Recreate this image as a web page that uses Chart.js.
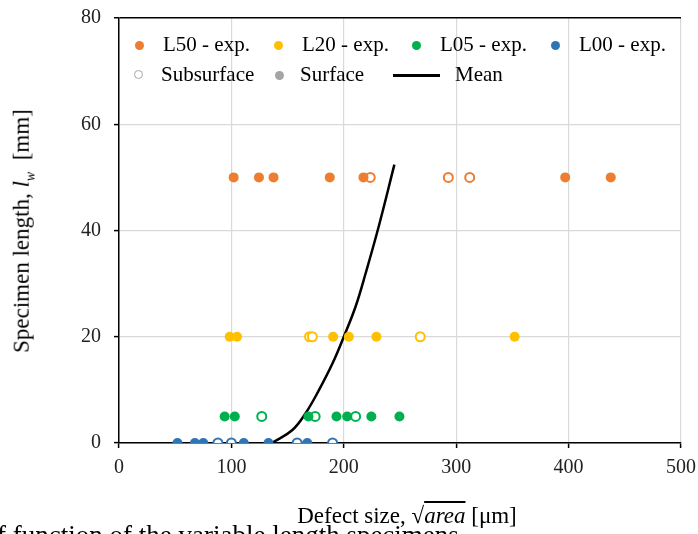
<!DOCTYPE html>
<html>
<head>
<meta charset="utf-8">
<script src="https://cdn.jsdelivr.net/npm/chart.js@4/dist/chart.umd.min.js"></script>
<style>
  html, body { margin: 0; padding: 0; background: #fff; }
  #wrap { position: relative; width: 698px; height: 534px; overflow: hidden; font-family: "Liberation Serif", "Times New Roman", serif; color: #000; }
  canvas { position: absolute; left: 0; top: 0; }
  .lg { position: absolute; font-size: 21px; line-height: 24px; white-space: nowrap; }
  .dot { position: absolute; width: 9px; height: 9px; border-radius: 50%; }
  .ring { position: absolute; width: 7px; height: 7px; border-radius: 50%; border: 1.5px solid #a5a5a5; background: #fff; }
  .ln { position: absolute; height: 2.5px; background: #000; }
  #xt { position: absolute; left: 0; width: 814px; top: 503px; text-align: center; font-size: 23px; line-height: 26px; white-space: nowrap; }
  #yt { position: absolute; left: 26px; top: 231px; transform: translate(-50%, -50%) rotate(-90deg); font-size: 23px; line-height: 26px; white-space: nowrap; }
  #cap { position: absolute; left: -3px; top: 520px; font-size: 27px; line-height: 30px; white-space: nowrap; }
  .ov { text-decoration: overline; font-style: italic; }
</style>
</head>
<body>
<div id="wrap">
  <canvas id="c" width="698" height="534"></canvas>
  <div id="legend"></div>
  <div id="cap">f function of the variable length specimens</div>
  <div id="xt">Defect size, √<span class="ov">area</span> [μm]</div>
  <div id="yt">Specimen length, <i>l</i><sub style="font-size:14px;font-style:italic">w</sub>&nbsp; [mm]</div>
</div>
<script>
// ---- data ----
const seriesNames = ["L50 - exp.", "L20 - exp.", "L05 - exp.", "L00 - exp."];
const seriesColors = ["#ED7D31", "#FFC000", "#00B050", "#2E75B6"];
const specimenLengths = [50, 20, 5, 0];

const L50_surface = [102, 124.5, 137.5, 187.5, 217.5, 397, 437.5];
const L50_subsurface = [223.5, 293, 312];
const L20_surface = [98.5, 105, 190.5, 204.5, 229, 352];
const L20_subsurface = [169.5, 172, 268];
const L05_surface = [94, 103, 168.5, 193.5, 203, 224.5, 249.5];
const L05_subsurface = [127, 174.5, 210.5];
const L00_surface = [52, 67.5, 75, 111, 133, 167.5];
const L00_subsurface = [88, 100, 158.5, 190];

const meanX = [136, 154, 166, 178, 190, 200, 210.5, 219.5, 231, 245];
const meanY = [0, 2.4, 5.6, 10, 15, 20, 25.7, 32, 40.7, 52.4];

const xTicks = [0, 100, 200, 300, 400, 500];
const yTicks = [0, 20, 40, 60, 80];

const surfaceSets = [L50_surface, L20_surface, L05_surface, L00_surface];
const subsurfaceSets = [L50_subsurface, L20_subsurface, L05_subsurface, L00_subsurface];

const datasets = [];
for (let i = 0; i < 4; i++) {
  datasets.push({
    label: seriesNames[i] + " surface",
    data: surfaceSets[i].map(v => ({ x: v, y: specimenLengths[i] })),
    backgroundColor: seriesColors[i],
    borderWidth: 0,
    pointRadius: 5,
    pointHoverRadius: 5
  });
  datasets.push({
    label: seriesNames[i] + " subsurface",
    data: subsurfaceSets[i].map(v => ({ x: v, y: specimenLengths[i] })),
    backgroundColor: "#ffffff",
    borderColor: seriesColors[i],
    borderWidth: 2,
    pointRadius: 4.5,
    pointHoverRadius: 4.5
  });
}
datasets.push({
  label: "Mean",
  data: meanX.map((v, k) => ({ x: v, y: meanY[k] })),
  showLine: true,
  borderColor: "#000",
  borderWidth: 2.5,
  pointRadius: 0,
  tension: 0.4,
  fill: false
});

const gridGrey = "#d9d9d9";
const tickFont = { family: "Liberation Serif", size: 20 };

new Chart(document.getElementById("c"), {
  type: "scatter",
  data: { datasets },
  options: {
    responsive: false,
    animation: false,
    layout: { padding: { top: 18, right: 17, bottom: 0, left: 0 } },
    plugins: { legend: { display: false }, tooltip: { enabled: false } },
    scales: {
      x: {
        type: "linear", min: 0, max: 500,
        afterBuildTicks: s => { s.ticks = xTicks.map(v => ({ value: v })); },
        afterFit: s => { s.height = 91; s.paddingRight = 0; s.paddingLeft = 0; },
        grid: { color: gridGrey, lineWidth: 1.2, tickLength: 5, tickColor: "#000", tickWidth: 1.5 },
        border: { color: "#000", width: 1.5 },
        ticks: { font: tickFont, color: "#222", padding: 8, maxRotation: 0 }
      },
      y: {
        type: "linear", min: 0, max: 80,
        afterBuildTicks: s => { s.ticks = yTicks.map(v => ({ value: v })); },
        afterFit: s => { s.width = 119; s.paddingTop = 0; s.paddingBottom = 0; },
        grid: {
          color: c => (c.tick && c.tick.value === 80 ? "#000" : gridGrey),
          lineWidth: c => (c.tick && c.tick.value === 80 ? 1.5 : 1.2),
          tickLength: 5, tickColor: "#000", tickWidth: 1.5
        },
        border: { color: "#000", width: 1.5 },
        ticks: { font: tickFont, color: "#222", padding: 13 }
      }
    }
  }
});

// ---- legend (HTML overlay) ----
const lg = document.getElementById("legend");
const row1X = [139, 278, 416, 555];
seriesNames.forEach((n, i) => {
  const d = document.createElement("div");
  d.className = "dot";
  d.style.left = (row1X[i] - 4.5) + "px";
  d.style.top = (45 - 4.5) + "px";
  d.style.background = seriesColors[i];
  lg.appendChild(d);
  const t = document.createElement("div");
  t.className = "lg";
  t.style.left = (row1X[i] + 24) + "px";
  t.style.top = (45 - 13) + "px";
  t.textContent = n;
  lg.appendChild(t);
});
const legend2 = [
  { kind: "ring", x: 139, text: "Subsurface", tx: 161 },
  { kind: "dot", x: 279, text: "Surface", tx: 300 },
  { kind: "line", x: 393, text: "Mean", tx: 455 }
];
legend2.forEach(it => {
  const m = document.createElement("div");
  if (it.kind === "ring") {
    m.className = "ring"; m.style.left = (it.x - 5) + "px"; m.style.top = (75 - 5) + "px";
  } else if (it.kind === "dot") {
    m.className = "dot"; m.style.left = (it.x - 4.5) + "px"; m.style.top = (75 - 4.5) + "px"; m.style.background = "#a5a5a5";
  } else {
    m.className = "ln"; m.style.left = it.x + "px"; m.style.width = "47px"; m.style.top = (74) + "px";
  }
  lg.appendChild(m);
  const t = document.createElement("div");
  t.className = "lg";
  t.style.left = it.tx + "px";
  t.style.top = (75 - 13) + "px";
  t.textContent = it.text;
  lg.appendChild(t);
});
</script>
</body>
</html>
